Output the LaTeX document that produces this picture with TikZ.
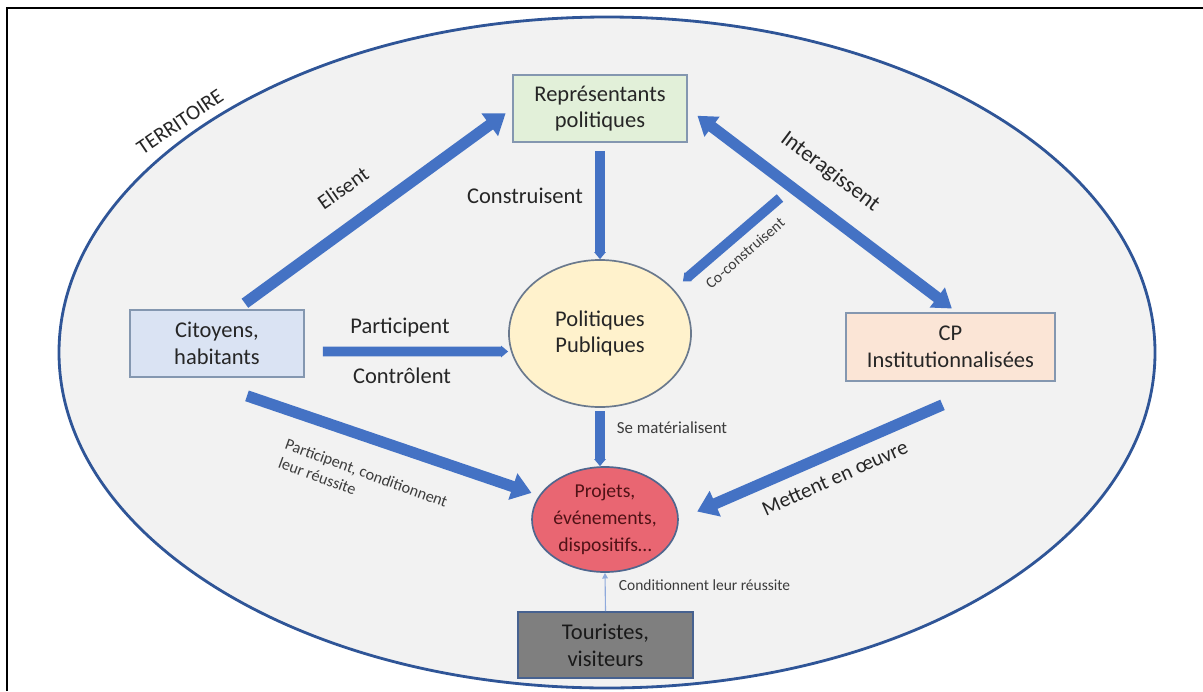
\documentclass[tikz,border=0pt]{standalone}
\usepackage{fontspec}
\setmainfont{Carlito}
\usepackage{tikz}
\usetikzlibrary{calc, positioning, arrows.meta, shapes.geometric}
\definecolor{terrBlue}{RGB}{47, 85, 151}
\definecolor{flowBlue}{RGB}{68, 114, 196}
\definecolor{thinBlue}{RGB}{143, 170, 220}
\definecolor{terrFill}{RGB}{242, 242, 242}
\definecolor{repFill}{RGB}{226, 240, 217}
\definecolor{citFill}{RGB}{218, 227, 243}
\definecolor{cpFill}{RGB}{251, 229, 214}
\definecolor{ppFill}{RGB}{255, 242, 204}
\definecolor{prjFill}{RGB}{233, 102, 114}
\definecolor{prjText}{RGB}{80, 18, 22}
\definecolor{touFill}{RGB}{127, 127, 127}
\definecolor{boxEdge}{RGB}{132, 151, 176}
\definecolor{txtDark}{RGB}{38, 38, 38}

\begin{document}
\begin{tikzpicture}[x=0.025cm, y=-0.025cm,
  lbl/.style={font=\fontsize{16}{19}\selectfont, text=txtDark},
  small/.style={font=\fontsize{11}{14}\selectfont, text=txtDark!90},
  actor/.style={draw=boxEdge, line width=1.2pt, inner sep=2pt, align=center,
    font=\fontsize{16}{19}\selectfont, text=txtDark},
  oval/.style={ellipse, draw=boxEdge!80!black, line width=1.2pt, inner sep=0pt,
    align=center},
  bigarrow/.style={flowBlue, line width=8pt, -{Triangle[width=19pt, length=14pt]}},
  duoarrow/.style={flowBlue, line width=8pt,
    {Triangle[width=17pt, length=13pt]}-{Triangle[width=17pt, length=13pt]}},
  tiparrow/.style={flowBlue, line width=7pt, -{Triangle[width=8pt, length=5pt]}},
  thinarrow/.style={thinBlue, line width=0.8pt, -{Triangle[width=4pt, length=4pt]}}]

  \useasboundingbox (0,0) rectangle (1203,691);
  % Frame
  \draw[black, line width=1.2pt] (7,691) -- (7,8) -- (1203,8);
  % Territory
  \draw[fill=terrFill, draw=terrBlue, line width=2pt] (607,352.5) ellipse [x radius=548, y radius=335.5];
  \node[lbl, font=\fontsize{15}{18}\selectfont, rotate=34] (terr) at (180,122) {TERRITOIRE};

  % Actors
  \node[actor, fill=repFill, minimum width=4.35cm, minimum height=1.675cm] (rep) at (600,108.5) {Représentants\\politiques};
  \node[actor, fill=citFill, minimum width=4.35cm, minimum height=1.675cm] (cit) at (217,343.5) {Citoyens,\\habitants};
  \node[actor, fill=cpFill, minimum width=5.225cm, minimum height=1.7cm] (cp) at (950.5,347) {CP\\Institutionnalisées};
  \node[oval, fill=ppFill, minimum width=4.55cm, minimum height=3.675cm,
    font=\fontsize{16}{19}\selectfont, text=txtDark] (pp) at (600,333.5) {Politiques\\Publiques};
  \node[oval, fill=prjFill, draw=terrBlue!60!gray, minimum width=3.3cm, minimum height=2.625cm,
    font=\fontsize{14}{19}\selectfont, text=prjText] (prj) at (605,519.5) {Projets,\\événements,\\dispositifs…};
  \node[actor, fill=touFill, draw=terrBlue!70!gray, minimum width=4.375cm, minimum height=1.65cm,
    text=black!90] (tou) at (605.5,645) {Touristes,\\visiteurs};

  % Flows
  \draw[bigarrow, shorten <=0.25cm, shorten >=0.2cm] (cit.60) -- (rep.west);
  \draw[tiparrow, shorten <=0.2cm] (rep.south) -- (pp.north);
  \draw[duoarrow, shorten <=0.3cm, shorten >=0.15cm] (rep.east) -- (cp.80);
  \coordinate (coco) at (780,198);
  \draw[tiparrow, shorten >=0.3cm] (coco) -- (pp.31);
  \draw[tiparrow, shorten <=0.45cm] ([yshift=-0.2cm]cit.east) -- ([yshift=-0.45cm]pp.west);
  \draw[bigarrow, shorten >=0.2cm] ($(cit.south)+(30,18)$) -- (prj.160);
  \draw[tiparrow, shorten <=0.08cm] (pp.south) -- (pp.south |- prj.north);
  \draw[bigarrow, shorten >=0.5cm] ($(cp.south)+(-8,23)$) -- (prj.east);
  \draw[thinarrow] (tou.north) -- (prj.south);

  % Labels
  \node[lbl, font=\fontsize{15}{18}\selectfont, rotate=35] (elis) at (343,188) {Elisent};
  \node[lbl] (cons) at (525,196) {Construisent};
  \node[lbl, rotate=-37] (inter) at (830,172) {Interagissent};
  \node[small, rotate=41] (cocons) at (745,253) {Co-construisent};
  \node[lbl] (part) at (400,328) {Participent};
  \node[lbl] (ctrl) at (402,376) {Contrôlent};
  \node[small, font=\fontsize{11.5}{14}\selectfont, rotate=-20, align=left, anchor=north west]
    (cond) at (285,432) {Participent, conditionnent\\leur réussite};
  \node[small, font=\fontsize{12}{14}\selectfont, anchor=west] (mat) at (612,428) {Se matérialisent};
  \node[lbl, font=\fontsize{15}{18}\selectfont, rotate=24] (mett) at (835,478) {Mettent en œuvre};
  \node[small, anchor=west] (reus) at (614,585) {Conditionnent leur réussite};
\end{tikzpicture}
\end{document}
